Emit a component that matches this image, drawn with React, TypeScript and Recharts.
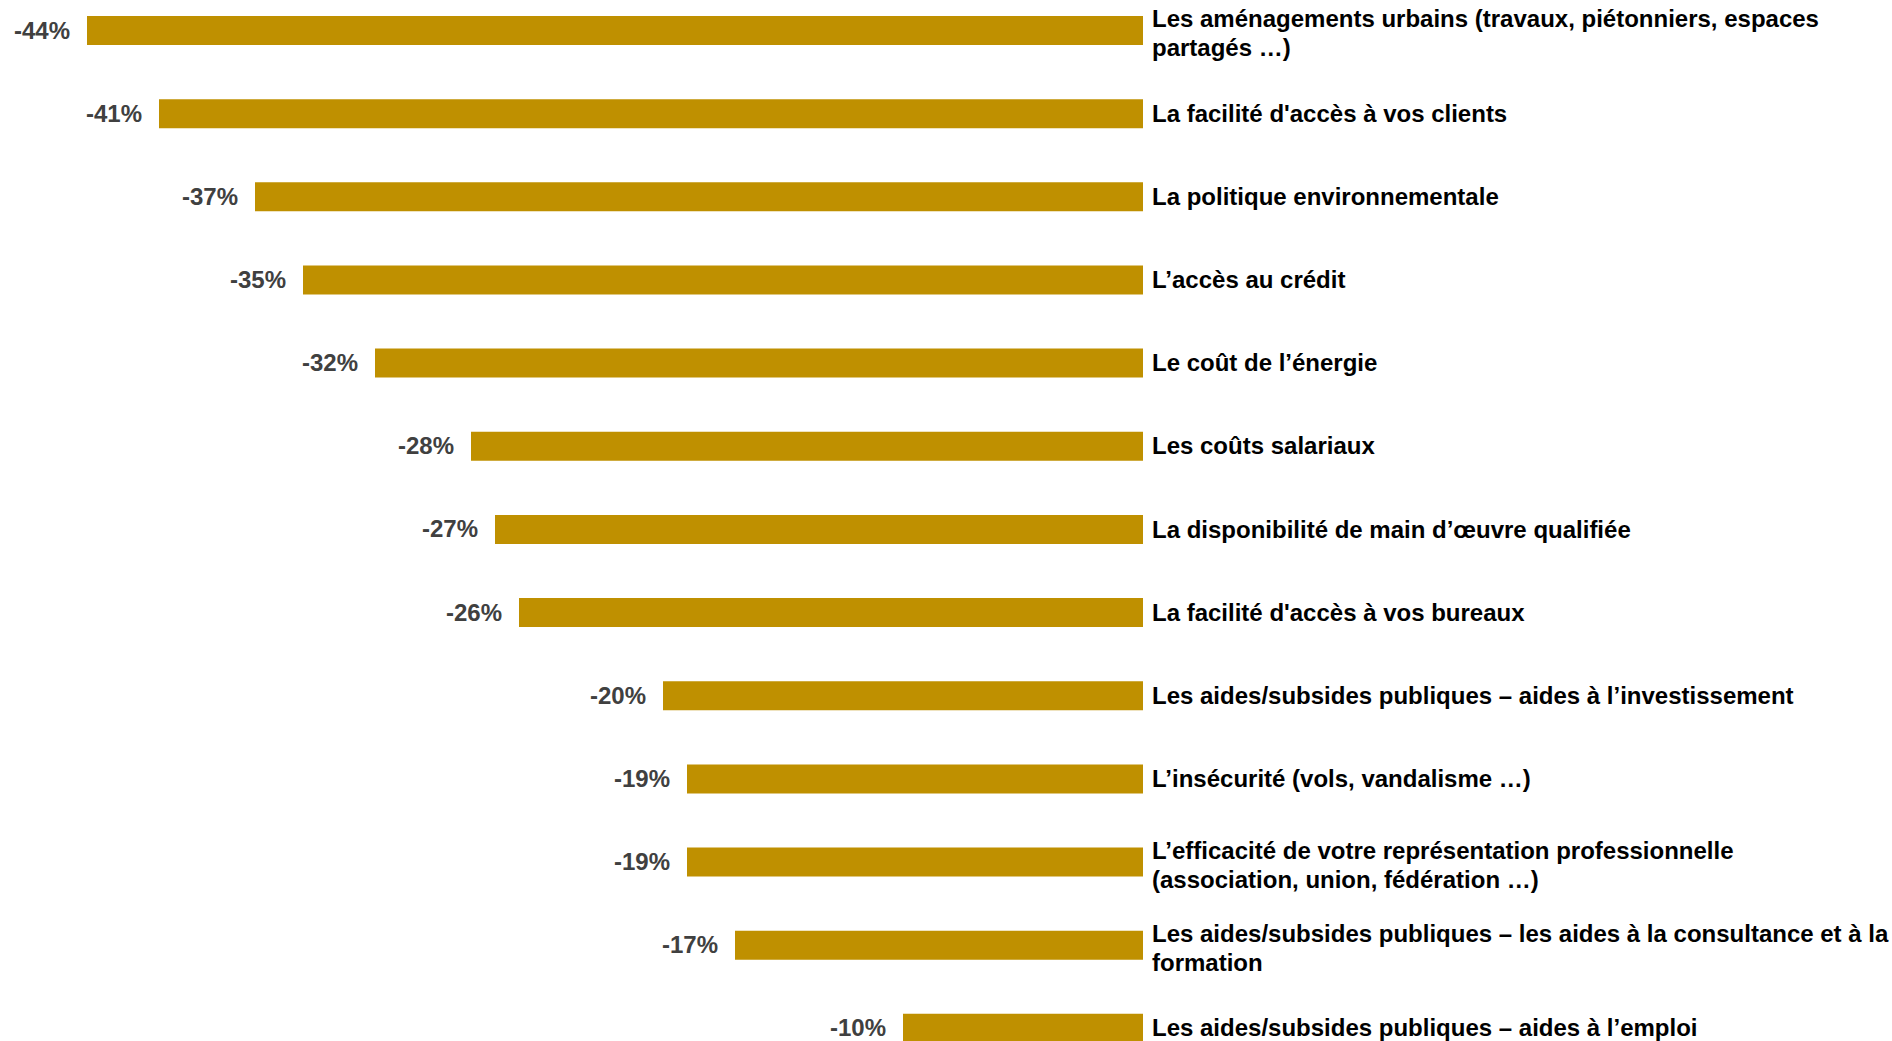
import { Bar, BarChart, LabelList, XAxis, YAxis } from "recharts";

const categories = [
  "Les aménagements urbains (travaux, piétonniers, espaces\npartagés …)",
  "La facilité d'accès à vos clients",
  "La politique environnementale",
  "L’accès au crédit",
  "Le coût de l’énergie",
  "Les coûts salariaux",
  "La disponibilité de main d’œuvre qualifiée",
  "La facilité d'accès à vos bureaux",
  "Les aides/subsides publiques – aides à l’investissement",
  "L’insécurité (vols, vandalisme …)",
  "L’efficacité de votre représentation professionnelle\n(association, union, fédération …)",
  "Les aides/subsides publiques – les aides à la consultance et à la\nformation",
  "Les aides/subsides publiques – aides à l’emploi"
];

const values = [-44, -41, -37, -35, -32, -28, -27, -26, -20, -19, -19, -17, -10];

const FONT = '"Liberation Sans Narrow", "Arial Narrow", "Liberation Sans", Arial, sans-serif';

const data = categories.map((name, i) => ({ name, value: values[i] }));

const CategoryTick = ({ x, y, payload }: any) => {
  const lines = String(payload.value).split("\n");
  const lh = 29;
  const first = lines.length > 1 ? -((lines.length - 1) * lh) / 2 + 11 : 8;
  return (
    <text x={x} y={y} fill="#000" fontFamily={FONT} fontWeight="bold" fontSize={24}>
      {lines.map((line, i) => (
        <tspan key={i} x={x} dy={i === 0 ? first : lh}>
          {line}
        </tspan>
      ))}
    </text>
  );
};

const ValueLabel = ({ x, y, width, height, value }: any) => {
  const left = Math.min(x, x + width);
  return (
    <text
      x={left - 17}
      y={y + height / 2}
      dy={8}
      textAnchor="end"
      fill="#404040"
      fontFamily={FONT}
      fontWeight="bold"
      fontSize={24}
    >
      {`${value}%`}
    </text>
  );
};

export default function App() {
  return (
    <div style={{ position: "absolute", left: 0, top: -11, width: 1892, height: 1081, background: "#fff" }}>
      <BarChart
        width={1892}
        height={1081}
        data={data}
        layout="vertical"
        margin={{ top: 0, right: 0, bottom: 0, left: 87 }}
      >
        <XAxis type="number" domain={[-44, 0]} hide />
        <YAxis
          type="category"
          dataKey="name"
          orientation="right"
          width={749}
          axisLine={false}
          tickLine={false}
          tickMargin={3}
          tick={<CategoryTick />}
          interval={0}
        />
        <Bar dataKey="value" fill="#BF9000" barSize={29} isAnimationActive={false}>
          <LabelList dataKey="value" content={<ValueLabel />} />
        </Bar>
      </BarChart>
    </div>
  );
}
